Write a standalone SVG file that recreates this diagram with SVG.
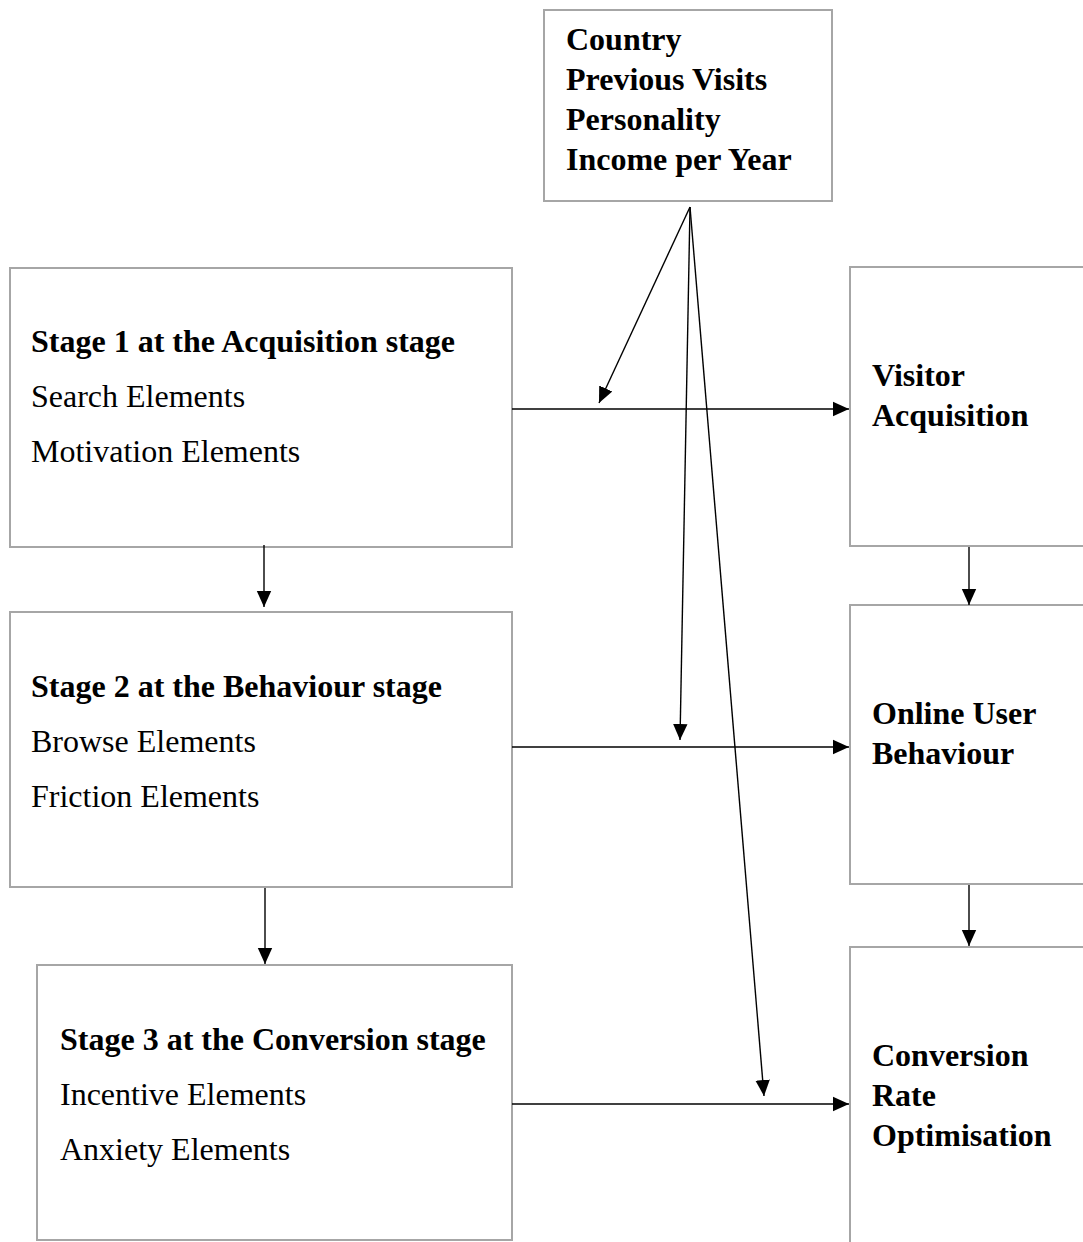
<svg xmlns="http://www.w3.org/2000/svg" width="1083" height="1242" viewBox="0 0 1083 1242">
  <style>
    .box { fill: #ffffff; stroke: #a6a6a6; stroke-width: 2; }
    .t { font-family: "Liberation Serif", "Times New Roman", serif; font-size: 32px; fill: #000; }
    .b { font-weight: bold; }
    .line { stroke: #000; stroke-width: 1.4; fill: none; }
  </style>
  <defs>
    <marker id="arrow" viewBox="0 0 10 10" refX="10" refY="5" markerWidth="16" markerHeight="16" markerUnits="userSpaceOnUse" orient="auto">
      <path d="M0,0.5 L10,5 L0,9.5 Z" fill="#000"/>
    </marker>
  </defs>
  <rect x="0" y="0" width="1083" height="1242" fill="#ffffff"/>

  <g id="factors">
    <rect class="box" x="544" y="10" width="288" height="191"/>
    <text class="t b" x="566" y="50">Country</text>
    <text class="t b" x="566" y="90">Previous Visits</text>
    <text class="t b" x="566" y="130">Personality</text>
    <text class="t b" x="566" y="170">Income per Year</text>
  </g>

  <g id="stage1">
    <rect class="box" x="10" y="268" width="502" height="279"/>
    <text class="t b" x="31" y="352">Stage 1 at the Acquisition stage</text>
    <text class="t" x="31" y="407">Search Elements</text>
    <text class="t" x="31" y="462">Motivation Elements</text>
  </g>

  <g id="stage2">
    <rect class="box" x="10" y="612" width="502" height="275"/>
    <text class="t b" x="31" y="697">Stage 2 at the Behaviour stage</text>
    <text class="t" x="31" y="752">Browse Elements</text>
    <text class="t" x="31" y="807">Friction Elements</text>
  </g>

  <g id="stage3">
    <rect class="box" x="37" y="965" width="475" height="275"/>
    <text class="t b" x="60" y="1050">Stage 3 at the Conversion stage</text>
    <text class="t" x="60" y="1105">Incentive Elements</text>
    <text class="t" x="60" y="1160">Anxiety Elements</text>
  </g>

  <g id="visitor-acquisition">
    <rect class="box" x="850" y="267" width="250" height="279"/>
    <text class="t b" x="872" y="386">Visitor</text>
    <text class="t b" x="872" y="426">Acquisition</text>
  </g>

  <g id="online-user-behaviour">
    <rect class="box" x="850" y="605" width="250" height="279"/>
    <text class="t b" x="872" y="724">Online User</text>
    <text class="t b" x="872" y="764">Behaviour</text>
  </g>

  <g id="conversion-rate-optimisation">
    <rect class="box" x="850" y="947" width="250" height="310"/>
    <text class="t b" x="872" y="1066">Conversion</text>
    <text class="t b" x="872" y="1106">Rate</text>
    <text class="t b" x="872" y="1146">Optimisation</text>
  </g>

  <g id="connectors">
    <!-- stage to outcome -->
    <line class="line" x1="512" y1="409" x2="849" y2="409" marker-end="url(#arrow)"/>
    <line class="line" x1="512" y1="747" x2="849" y2="747" marker-end="url(#arrow)"/>
    <line class="line" x1="512" y1="1104" x2="849" y2="1104" marker-end="url(#arrow)"/>
    <!-- stage to stage -->
    <line class="line" x1="264" y1="545" x2="264" y2="607" marker-end="url(#arrow)"/>
    <line class="line" x1="265" y1="888" x2="265" y2="964" marker-end="url(#arrow)"/>
    <!-- outcome to outcome -->
    <line class="line" x1="969" y1="547" x2="969" y2="605" marker-end="url(#arrow)"/>
    <line class="line" x1="969" y1="885" x2="969" y2="946" marker-end="url(#arrow)"/>
    <!-- moderating factors -->
    <line class="line" x1="690" y1="207" x2="599" y2="403" marker-end="url(#arrow)"/>
    <line class="line" x1="690" y1="207" x2="680" y2="740" marker-end="url(#arrow)"/>
    <line class="line" x1="690" y1="207" x2="764" y2="1096" marker-end="url(#arrow)"/>
  </g>
</svg>
